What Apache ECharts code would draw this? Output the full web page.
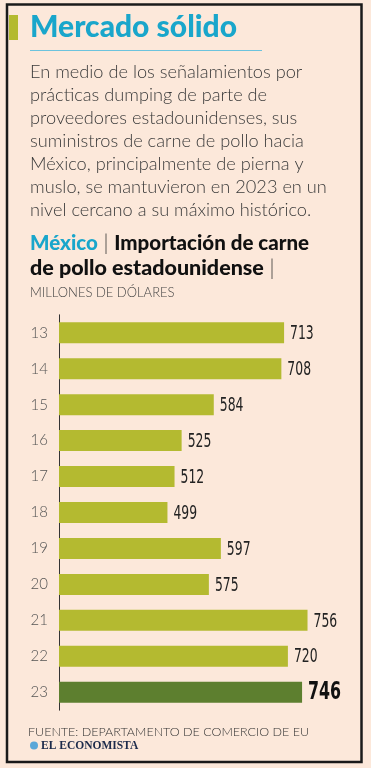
<!DOCTYPE html>
<html>
<head>
<meta charset="utf-8">
<script src="https://cdn.jsdelivr.net/npm/echarts@6/dist/echarts.min.js"></script>
<style>
html,body{margin:0;padding:0;background:#FCE8DA;}
#c{width:371px;height:768px;}
</style>
</head>
<body>
<div id="c"></div>
<script>
const years = ['13','14','15','16','17','18','19','20','21','22','23'];
const values = [713,708,584,525,512,499,597,575,756,720,746];
const titleText = 'Mercado sólido';
const paragraph = [
  'En medio de los señalamientos por',
  'prácticas dumping de parte de',
  'proveedores estadounidenses, sus',
  'suministros de carne de pollo hacia',
  'México, principalmente de pierna y',
  'muslo, se mantuvieron en 2023 en un',
  'nivel cercano a su máximo histórico.'
];
const chartTitle1a = 'México';
const chartTitle1b = 'Importación de carne';
const chartTitle2 = 'de pollo estadounidense';
const unitText = 'MILLONES DE DÓLARES';
const sourceText = 'FUENTE: DEPARTAMENTO DE COMERCIO DE EU';
const brandText = 'EL ECONOMISTA';

const bodyFont = 'Lato, "Open Sans", sans-serif';
const cyan = '#19A6CB';
const barColor = '#B4BA30';
const lastColor = '#5D7F2F';
const lastIdx = values.length - 1;

const chart = echarts.init(document.getElementById('c'), null, {renderer:'canvas'});

const graphics = [
  {type:'rect', shape:{x:7, y:4.5, width:354.5, height:757.5}, style:{fill:'none', stroke:'#1a1a1a', lineWidth:2.5}},
  {type:'rect', shape:{x:9, y:15, width:9, height:25}, style:{fill:barColor}},
  {type:'text', left:30, top:12, style:{text:titleText, font:'900 30px Lato, sans-serif', fill:cyan}},
  {type:'line', shape:{x1:30, y1:50.5, x2:262, y2:50.5}, style:{stroke:'#6CC3DD', lineWidth:1}}
];
paragraph.forEach((t,i)=>{
  graphics.push({type:'text', left:30, top:63 + i*23, style:{text:t, font:'300 18.2px '+bodyFont, fill:'#3a3a3a'}});
});
graphics.push({type:'text', left:30, top:233, style:{
  rich:{c:{font:'900 20.5px Lato, sans-serif', fill:cyan}, b:{font:'900 20.5px Lato, sans-serif', fill:'#111'}, s:{font:'300 21px Lato, sans-serif', fill:'#333'}},
  text:'{c|'+chartTitle1a+'}{s| | }{b|'+chartTitle1b+'}'
}});
graphics.push({type:'text', left:30, top:257, style:{
  rich:{b:{font:'900 21.5px Lato, sans-serif', fill:'#111'}, s:{font:'300 21px Lato, sans-serif', fill:'#333'}},
  text:'{b|'+chartTitle2+'}{s| |}'
}});
graphics.push({type:'text', left:30, top:286, style:{text:unitText, font:'300 13px '+bodyFont, fill:'#444'}});
graphics.push({type:'text', left:28, top:725, style:{text:sourceText, font:'300 12.5px '+bodyFont, fill:'#333'}});
graphics.push({type:'circle', shape:{cx:34, cy:745.5, r:4}, style:{fill:'#5AA7D8'}});
graphics.push({type:'text', left:41, top:740, style:{text:brandText, font:'bold 11.5px "Liberation Serif", serif', fill:'#1c2a4a'}});

chart.setOption({
  backgroundColor:'#FCE8DA',
  animation:false,
  grid:{left:59, right:39.5, top:314.8, bottom:768-710.2, containLabel:false},
  xAxis:{type:'value', min:300, max:800, show:false},
  yAxis:{type:'category', data:years, inverse:true,
    axisLine:{show:true, lineStyle:{color:'#333', width:1}},
    axisTick:{show:false},
    axisLabel:{margin:11, color:'#555', fontFamily:bodyFont, fontWeight:300, fontSize:15}
  },
  series:[{
    type:'bar', barWidth:21,
    data: values.map((v,i)=>({value:v, itemStyle:{color: i===lastIdx ? lastColor : barColor}}))
  },{
    type:'custom',
    data: values.map((v,i)=>[v, i]),
    renderItem: function(params, api){
      const v = api.value(0), idx = api.value(1);
      const pt = api.coord([v, idx]);
      const last = idx === lastIdx;
      return {
        type:'text',
        x: pt[0] + 6, y: pt[1] + 1,
        scaleX: last ? 0.66 : 0.62,
        style:{
          text: String(v),
          font: (last ? 'bold 24px' : '20px') + ' "DejaVu Sans", sans-serif',
          fill: last ? '#111' : '#222',
          verticalAlign:'middle', align:'left'
        }
      };
    }
  }],
  graphic:graphics
});
</script>
</body>
</html>
